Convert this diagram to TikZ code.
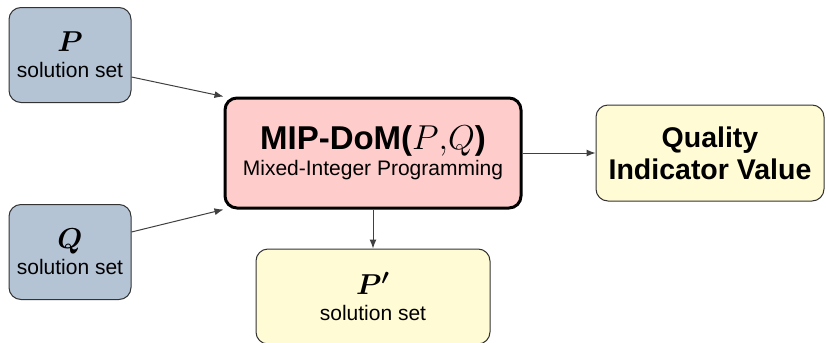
\documentclass[tikz,border=0pt]{standalone}
\usepackage{amsmath,bm}
\usepackage{fontspec}
\setmainfont{Liberation Sans}
\usetikzlibrary{positioning,arrows.meta}

\definecolor{setblue}{RGB}{181,196,213}
\definecolor{dompink}{RGB}{255,204,204}
\definecolor{outyellow}{RGB}{255,251,212}

\begin{document}
\begin{tikzpicture}[
    x=0.5pt,y=-0.5pt,
    box/.style={
      draw=black!80,line width=0.5pt,rounded corners=6pt,
      align=center,inner sep=0pt,font=\fontsize{10.5}{12}\selectfont
    },
    setbox/.style={box,fill=setblue,minimum width=61pt,minimum height=47.5pt},
    link/.style={-{Latex[length=4.5pt,width=3.5pt]},draw=black!75,line width=0.5pt}
  ]
    \useasboundingbox (0,0) rectangle (826,343);

    \node[setbox] (setP) at (70,55)
      {{\fontsize{15}{15}\selectfont$\bm{P}$}\\[1pt]solution set};
    \node[setbox] (setQ) at (70,252)
      {{\fontsize{15}{15}\selectfont$\bm{Q}$}\\[1pt]solution set};

    \node[box,fill=dompink,draw=black,line width=1.5pt,
          minimum width=148pt,minimum height=55pt] (mipdom) at (373,153)
      {{\fontsize{16.5}{18}\selectfont\bfseries MIP-DoM($P{,}Q$)}\\[1pt]Mixed-Integer Programming};

    \node[box,fill=outyellow,minimum width=114pt,minimum height=48pt,
          font=\fontsize{14.25}{16}\selectfont\bfseries] (quality) at (710,153)
      {Quality\\Indicator Value};

    \node[box,fill=outyellow,minimum width=117pt,minimum height=47.5pt] (setPp) at (373,296.5)
      {{\fontsize{15}{15}\selectfont$\bm{P'}$}\\[1pt]solution set};

    % connectors
    \draw[link] (setP.east |- 0,77) -- (mipdom.north west);
    \draw[link] (setQ.east |- 0,232) -- (mipdom.south west);
    \draw[link] (mipdom) -- (quality);
    \draw[link] (mipdom) -- (setPp);
  \end{tikzpicture}
\end{document}
